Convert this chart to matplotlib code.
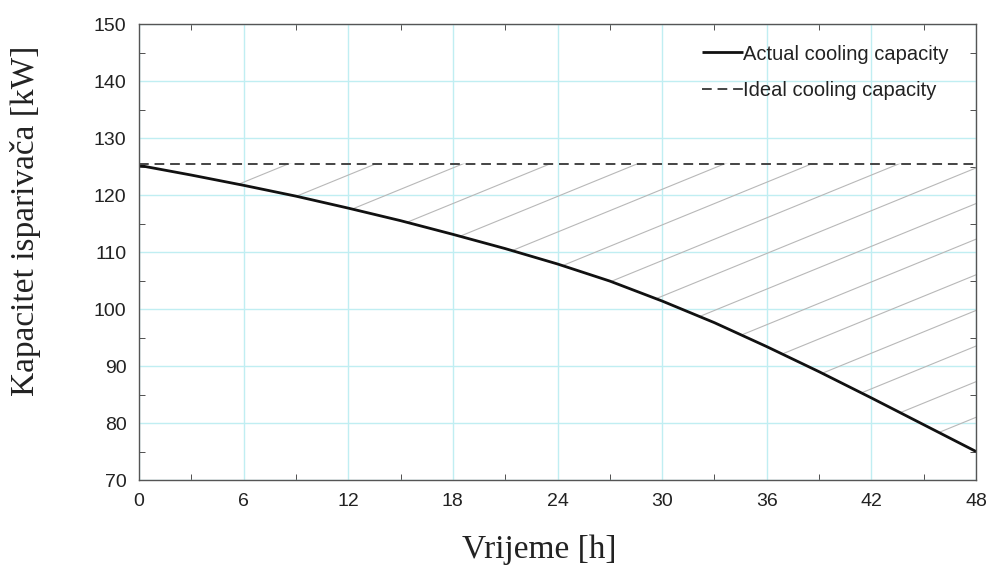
import numpy as np
import matplotlib
matplotlib.use("Agg")
import matplotlib.pyplot as plt
from matplotlib.ticker import MultipleLocator
from matplotlib.path import Path
from matplotlib.patches import PathPatch

# ---- data ----
hours = [0, 3, 6, 9, 12, 15, 18, 21, 24, 27, 30, 33, 36, 39, 42, 45, 48]
actual = [125.2, 123.5, 121.7, 119.8, 117.7, 115.5, 113.1, 110.6, 107.9,
          104.9, 101.4, 97.6, 93.4, 89.0, 84.4, 79.7, 75.0]
ideal_value = 125.5
x_ticks = [0, 6, 12, 18, 24, 30, 36, 42, 48]
y_ticks = [70, 80, 90, 100, 110, 120, 130, 140, 150]
labels = ["Actual cooling capacity", "Ideal cooling capacity"]
xlabel = "Vrijeme [h]"
ylabel = "Kapacitet isparivača [kW]"

# hatch style (decoration of region between the curves)
hatch_start, hatch_step, hatch_slope, hatch_count = 8.6, 5.0, 1.25, 18

fig = plt.figure(figsize=(9.87, 5.69), dpi=100)
ax = fig.add_axes([0.1408, 0.1564, 0.9889 - 0.1408, 0.9578 - 0.1564])

ax.set_xlim(0, 48)
ax.set_ylim(70, 150)
ax.set_xticks(x_ticks)
ax.set_yticks(y_ticks)
ax.xaxis.set_minor_locator(MultipleLocator(3))
ax.yaxis.set_minor_locator(MultipleLocator(5))
ax.grid(True, which="major", color="#c0eef2", lw=1.0)
ax.set_axisbelow(True)
ax.tick_params(which="both", direction="in", top=True, right=True, colors="#333333",
               labelcolor="#222222", labelsize=14)
ax.tick_params(which="major", length=0, pad=9)
ax.tick_params(which="minor", length=4)
for s in ax.spines.values():
    s.set_color("#555555")
    s.set_linewidth(1.0)
for lab in ax.get_xticklabels() + ax.get_yticklabels():
    lab.set_family(["Liberation Sans", "DejaVu Sans"])

# region between ideal and actual for clipping hatch lines
xs = np.array(hours, dtype=float)
ys = np.array(actual, dtype=float)
verts = list(zip(xs, ys)) + list(zip(xs[::-1], [ideal_value] * len(xs)))
poly = Path(verts + [verts[0]], closed=True)
patch = PathPatch(poly, facecolor="none", edgecolor="none", transform=ax.transData)
ax.add_patch(patch)

xx = np.array([0.0, 48.0])
for k in range(hatch_count):
    x0 = hatch_start + hatch_step * k
    ln, = ax.plot(xx, ideal_value - hatch_slope * (x0 - xx), color="#b8b8b8", lw=0.8)
    ln.set_clip_path(patch)

ax.plot(xs, ys, color="#111111", lw=2.0, label=labels[0], solid_capstyle="butt")
ax.axhline(ideal_value, color="#444444", lw=1.4, ls=(0, (5, 3)), label=labels[1])

leg = ax.legend(loc="upper right", bbox_to_anchor=(0.9665, 0.955), frameon=False,
                handlelength=2.0, handletextpad=0.0, labelspacing=0.85,
                borderaxespad=0.0, borderpad=0.0,
                prop={"family": ["Liberation Sans", "DejaVu Sans"], "size": 14.5})
for t in leg.get_texts():
    t.set_color("#222222")

ax.set_xlabel(xlabel, family=["Liberation Serif", "DejaVu Serif"], fontsize=24, color="#222222")
ax.xaxis.set_label_coords(0.478, -0.153)
ax.xaxis.label.set_va("center")
ax.set_ylabel(ylabel, family=["Liberation Serif", "DejaVu Serif"], fontsize=24, color="#222222")
ax.yaxis.set_label_coords(-0.135, 0.568)
ax.yaxis.label.set_va("center")

fig.savefig("out.png", dpi=100)
